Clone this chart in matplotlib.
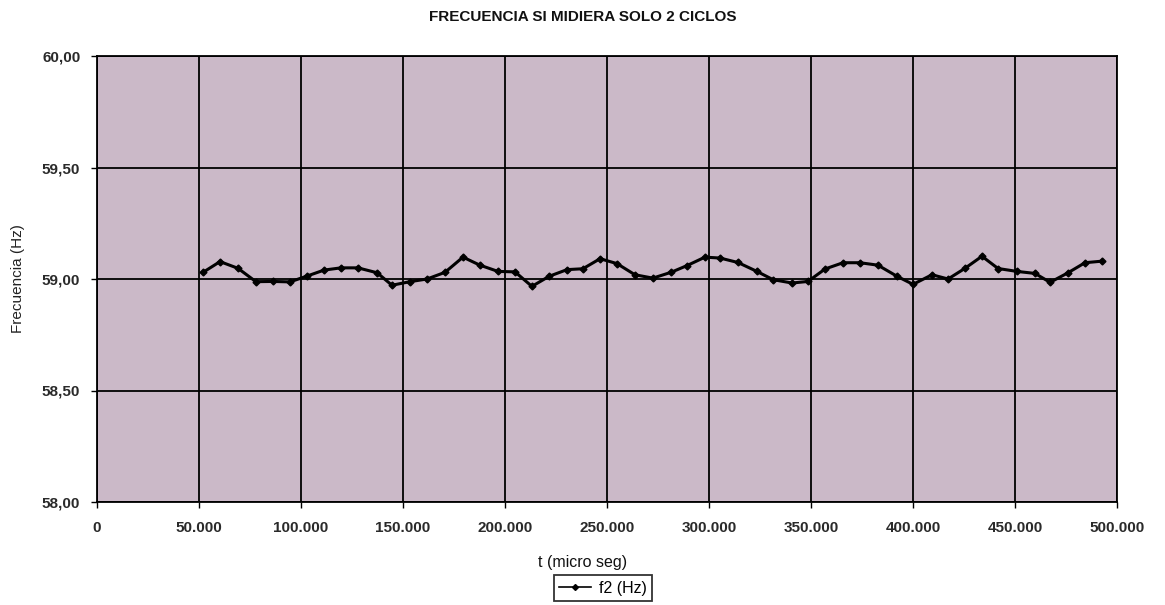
import matplotlib
matplotlib.use("Agg")
import matplotlib.pyplot as plt
from matplotlib.lines import Line2D

# Sample times (micro seconds) and frequency measured over 2 cycles
t_us = [52000, 60300, 69100, 77900, 86300, 94600, 102900, 111300, 119600, 127900,
        137300, 144600, 153400, 161800, 170600, 179400, 187700, 196600, 204900, 213200,
        221600, 230400, 238200, 246600, 254900, 263700, 272500, 281400, 289200, 298000,
        305400, 314200, 323500, 331400, 340700, 348500, 356900, 365700, 374000, 382800,
        392200, 400000, 409300, 417200, 425500, 433800, 441700, 451000, 459800, 467200,
        476000, 484300, 492600]
f2_hz = [59.030, 59.078, 59.048, 58.988, 58.989, 58.987, 59.013, 59.040, 59.050, 59.050,
         59.028, 58.972, 58.988, 59.000, 59.030, 59.098, 59.062, 59.034, 59.032, 58.967,
         59.012, 59.042, 59.046, 59.091, 59.069, 59.019, 59.004, 59.030, 59.060, 59.098,
         59.094, 59.074, 59.034, 58.997, 58.982, 58.989, 59.045, 59.073, 59.073, 59.062,
         59.012, 58.976, 59.019, 59.000, 59.048, 59.102, 59.047, 59.034, 59.025, 58.985,
         59.028, 59.073, 59.080]

x_ticks = [0, 50000, 100000, 150000, 200000, 250000, 300000, 350000, 400000, 450000, 500000]
x_tick_labels = ["0", "50.000", "100.000", "150.000", "200.000", "250.000",
                 "300.000", "350.000", "400.000", "450.000", "500.000"]
y_ticks = [58.0, 58.5, 59.0, 59.5, 60.0]
y_tick_labels = ["58,00", "58,50", "59,00", "59,50", "60,00"]

title = "FRECUENCIA SI MIDIERA SOLO 2 CICLOS"
x_label = "t (micro seg)"
y_label = "Frecuencia (Hz)"
series_label = "f2 (Hz)"

font = ["Liberation Sans Narrow", "Liberation Sans", "DejaVu Sans"]
plt.rcParams["font.family"] = font

fig = plt.figure(figsize=(11.65, 6.05), dpi=100)
fig.patch.set_facecolor("white")
ax = fig.add_axes([97 / 1165, 1 - 502 / 605, (1117 - 97) / 1165, (502 - 56) / 605])
ax.set_facecolor("#cbb9c8")

ax.plot(t_us, f2_hz, color="black", linewidth=2.2, marker="D", markersize=3.5,
        markerfacecolor="black", markeredgecolor="black", zorder=3)

ax.set_xlim(0, 500000)
ax.set_ylim(58.0, 60.0)
ax.set_xticks(x_ticks)
ax.set_xticklabels(x_tick_labels)
ax.set_yticks(y_ticks)
ax.set_yticklabels(y_tick_labels)
ax.tick_params(axis="both", direction="out", length=4, width=1, colors="black",
               labelsize=11)
ax.tick_params(axis="x", pad=10)
ax.tick_params(axis="y", pad=8)
for lbl in ax.get_xticklabels() + ax.get_yticklabels():
    lbl.set_fontweight("bold")
    lbl.set_color("#2a2a2a")

ax.grid(True, color="black", linewidth=1.3, zorder=1)
ax.set_axisbelow(True)
for side in ["left", "bottom", "top", "right"]:
    ax.spines[side].set_color("black")
    ax.spines[side].set_linewidth(1.3)

fig.text(0.5, 1 - 17 / 605, title, ha="center", va="center", fontsize=11,
         fontweight="bold", color="#111111")
fig.text(0.5, 1 - 562 / 605, x_label, ha="center", va="center", fontsize=11.5,
         color="#111111")
fig.text(18 / 1165, 1 - 279 / 605, y_label, ha="center", va="center", fontsize=11,
         rotation=90, color="#222222")

handle = Line2D([], [], color="black", linewidth=1.2, marker="D", markersize=3)
leg = fig.legend([handle], [series_label], loc="center",
                 bbox_to_anchor=(603 / 1165, 1 - 588 / 605), frameon=True,
                 fancybox=False, edgecolor="black", fontsize=11.5, handlelength=2.0,
                 handletextpad=0.5, borderpad=0.35)
leg.get_frame().set_linewidth(1.3)

fig.savefig("out.png", dpi=100, facecolor="white")
